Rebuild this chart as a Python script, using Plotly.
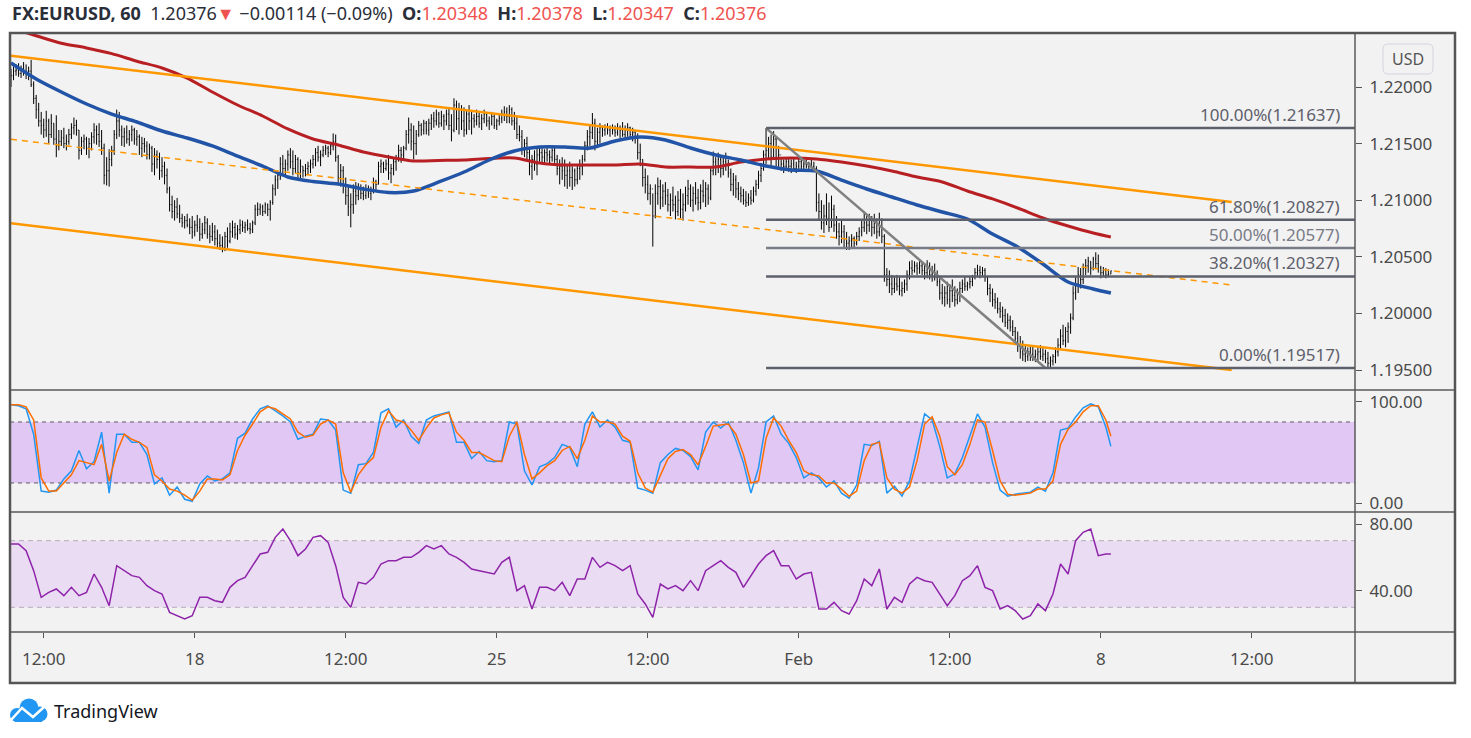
import plotly.graph_objects as go

W, H = 1471, 738
L, R, T, B = 10, 116, 33, 106
PW, PH = W - L - R, H - T - B


def px(x):
    # pixel -> paper x
    return (x - L) / PW


def py(y):
    # pixel -> paper y
    return (H - B - y) / PH


def round_rect(x0, y0, x1, y1, r):
    # rounded box path in paper coords, from pixel corners
    pts = [
        ("M", x0 + r, y0), ("L", x1 - r, y0), ("Q", x1, y0, x1, y0 + r),
        ("L", x1, y1 - r), ("Q", x1, y1, x1 - r, y1), ("L", x0 + r, y1),
        ("Q", x0, y1, x0, y1 - r), ("L", x0, y0 + r), ("Q", x0, y0, x0 + r, y0),
    ]
    out = []
    for p in pts:
        cmd, coords = p[0], p[1:]
        xy = [f"{px(coords[i]):.5f},{py(coords[i + 1]):.5f}" for i in range(0, len(coords), 2)]
        out.append(cmd + " " + " ".join(xy))
    return " ".join(out) + " Z"


BASE = 1.19  # prices below are pips above this

high_pips = [
    316, 318, 320, 321, 319, 322, 320, 318, 324, 305, 293, 286, 278, 272, 279, 272, 276, 268, 275, 262,
    262, 264, 258, 263, 268, 273, 271, 262, 256, 258, 256, 255, 260, 268, 266, 268, 262, 250, 238, 245,
    248, 262, 280, 278, 266, 264, 266, 262, 266, 264, 262, 258, 256, 255, 252, 250, 248, 246, 244, 242,
    238, 234, 228, 212, 204, 200, 202, 196, 188, 186, 188, 184, 186, 182, 187, 184, 180, 186, 184, 178,
    180, 178, 174, 170, 168, 172, 176, 180, 182, 180, 178, 183, 182, 181, 183, 180, 182, 196, 198, 197,
    196, 198, 197, 200, 214, 222, 226, 238, 240, 236, 244, 246, 244, 240, 238, 236, 230, 232, 234, 236,
    240, 246, 248, 244, 248, 249, 248, 250, 259, 258, 240, 232, 230, 220, 212, 206, 214, 216, 215, 214,
    212, 214, 213, 212, 220, 218, 234, 236, 234, 236, 240, 232, 238, 240, 249, 247, 248, 262, 273, 268,
    266, 262, 270, 268, 271, 270, 272, 276, 278, 280, 278, 279, 276, 280, 282, 276, 290, 288, 286, 284,
    282, 280, 284, 278, 276, 280, 278, 276, 280, 277, 274, 278, 276, 272, 276, 280, 283, 282, 284, 282,
    278, 274, 266, 262, 254, 256, 246, 240, 244, 246, 247, 246, 245, 247, 244, 246, 247, 240, 236, 238,
    236, 232, 234, 230, 228, 232, 236, 240, 252, 262, 266, 277, 272, 264, 268, 266, 267, 268, 266, 267,
    266, 268, 266, 269, 266, 268, 265, 264, 262, 259, 250, 236, 228, 222, 214, 206, 214, 220, 218, 214,
    216, 210, 206, 212, 204, 208, 210, 206, 212, 218, 214, 212, 216, 210, 214, 218, 216, 214, 230, 243,
    238, 242, 240, 238, 242, 236, 228, 224, 222, 216, 212, 210, 208, 206, 209, 212, 218, 226, 233, 244,
    263.7, 256, 258, 261, 256, 248, 238, 236, 238, 237, 236, 238, 234, 237, 238, 234, 236, 234, 236, 234,
    230, 206, 200, 196, 206, 198, 204, 196, 186, 180, 182, 178, 172, 168, 170, 168, 172, 176, 182, 189,
    186, 188, 186, 188, 184, 189, 184, 170, 140, 138, 134, 132, 134, 132, 128, 130, 138, 146, 147, 146,
    145, 147, 146, 144, 147, 145, 142, 144, 138, 132, 126, 124, 128, 126, 130, 124, 122, 128, 130, 132,
    128, 132, 134, 140, 143, 142, 141, 140, 132, 126, 122, 118, 114, 110, 106, 104, 100, 98, 94, 88,
    84, 80, 76, 72, 70, 72, 71, 68, 70, 72, 70, 68, 66, 62, 64, 70, 78, 86, 90, 88,
    92, 100, 124, 132, 141, 140, 144, 148, 150, 146, 150, 154, 152, 142, 141, 140, 139, 137.8,
]
low_pips = [
    300, 306, 310, 309, 308, 310, 307, 306, 300, 285, 272, 265, 258, 255, 256, 250, 255, 249, 238, 244,
    248, 246, 244, 249, 254, 258, 257, 236, 240, 245, 240, 237, 244, 250, 249, 247, 240, 214, 213, 212,
    230, 240, 254, 256, 248, 247, 250, 248, 252, 249, 248, 240, 238, 242, 236, 236, 225, 222, 228, 218,
    220, 214, 206, 190, 184, 182, 184, 180, 176, 175, 176, 170, 166, 168, 172, 164, 166, 170, 166, 162,
    164, 160, 158, 156, 154, 155, 158, 162, 167, 166, 165, 170, 172, 171, 173, 170, 171, 178, 186, 187,
    186, 188, 186, 182, 196, 204, 210, 218, 222, 222, 226, 228, 222, 224, 218, 219, 220, 221, 222, 224,
    228, 230, 234, 230, 238, 240, 238, 240, 244, 234, 214, 212, 206, 196, 186, 176, 188, 196, 200, 201,
    200, 201, 202, 200, 206, 208, 214, 224, 224, 226, 218, 215, 222, 226, 234, 233, 236, 244, 250, 244,
    236, 240, 256, 257, 258, 258, 257, 262, 264, 266, 264, 265, 262, 266, 262, 252, 260, 262, 258, 262,
    256, 258, 262, 258, 264, 266, 264, 262, 268, 265, 262, 266, 263, 262, 266, 268, 270, 268, 268, 266,
    262, 254, 252, 240, 238, 236, 222, 218, 226, 222, 234, 233, 232, 234, 232, 234, 233, 222, 214, 218,
    212, 210, 212, 209, 212, 214, 218, 222, 234, 244, 248, 254, 244, 246, 250, 256, 257, 258, 256, 258,
    256, 257, 255, 256, 254, 256, 254, 252, 250, 236, 230, 212, 206, 200, 196, 159, 184, 196, 192, 194,
    196, 190, 186, 190, 183, 186, 184, 182, 190, 196, 194, 190, 196, 191, 192, 198, 194, 196, 200, 222,
    222, 224, 220, 222, 226, 220, 208, 204, 202, 200, 198, 196, 194, 195, 196, 198, 204, 210, 216, 226,
    232, 236, 230, 236, 230, 227, 226, 224, 226, 225, 224, 226, 224, 225, 226, 226, 228, 227, 228, 226,
    190, 182, 174, 171, 178, 172, 176, 172, 166, 160, 162, 158, 156, 156, 158, 158, 160, 164, 168, 172,
    170, 172, 168, 170, 166, 168, 162, 128, 124, 118, 116, 118, 120, 116, 115, 118, 120, 130, 134, 136,
    134, 135, 134, 130, 131, 130, 128, 129, 124, 112, 108, 106, 108, 105, 110, 106, 108, 110, 118, 120,
    120, 122, 124, 130, 132, 131, 132, 128, 116, 110, 106, 104, 100, 96, 92, 88, 86, 84, 80, 72,
    66, 60, 58, 57, 58, 58, 58, 57, 58, 59, 58, 56, 51.7, 52, 54, 56, 62, 68, 72, 70,
    74, 82, 94, 112, 118, 122, 126, 134, 136, 134, 138, 140, 136, 131, 132, 131, 132, 134.7,
]
close_pips = [
    310, 314, 315, 312, 316, 313, 311, 314, 302, 290, 280, 270, 266, 262, 270, 258, 268, 254, 248, 252,
    255, 250, 252, 258, 264, 266, 262, 244, 252, 254, 246, 250, 256, 262, 258, 252, 246, 222, 226, 236,
    244, 258, 270, 262, 256, 260, 254, 258, 262, 254, 256, 246, 250, 248, 240, 246, 232, 240, 236, 226,
    230, 222, 210, 196, 190, 194, 188, 184, 180, 182, 178, 176, 172, 178, 176, 170, 174, 180, 170, 168,
    172, 166, 162, 160, 158, 168, 164, 172, 176, 170, 174, 178, 176, 178, 175, 174, 180, 192, 192, 194,
    190, 196, 192, 198, 210, 218, 222, 232, 228, 232, 240, 234, 228, 236, 224, 230, 226, 228, 230, 232,
    236, 242, 238, 240, 244, 246, 242, 248, 252, 238, 220, 226, 214, 204, 194, 196, 208, 204, 210, 206,
    204, 210, 206, 208, 216, 214, 230, 232, 228, 232, 224, 228, 234, 236, 244, 240, 246, 258, 262, 252,
    250, 258, 266, 262, 268, 262, 268, 272, 270, 276, 268, 274, 270, 276, 266, 262, 284, 272, 280, 270,
    262, 276, 270, 272, 270, 274, 268, 272, 276, 270, 268, 274, 266, 270, 272, 276, 278, 274, 280, 270,
    268, 258, 256, 246, 250, 242, 230, 236, 232, 240, 242, 238, 242, 240, 238, 244, 236, 228, 230, 226,
    222, 226, 220, 226, 218, 228, 230, 236, 248, 256, 260, 268, 252, 260, 264, 262, 264, 262, 264, 262,
    260, 264, 262, 258, 262, 264, 258, 260, 256, 242, 236, 220, 214, 206, 210, 186, 206, 212, 202, 208,
    204, 196, 200, 196, 190, 200, 192, 196, 204, 210, 200, 206, 202, 198, 208, 204, 210, 202, 226, 234,
    230, 236, 228, 234, 232, 224, 214, 218, 210, 206, 204, 200, 198, 202, 200, 208, 214, 222, 228, 240,
    244, 250, 238, 254, 236, 240, 232, 230, 234, 230, 232, 228, 230, 234, 230, 232, 230, 232, 230, 228,
    198, 190, 180, 186, 184, 176, 192, 178, 172, 168, 172, 166, 162, 164, 166, 162, 168, 172, 176, 180,
    178, 182, 176, 180, 172, 182, 168, 134, 130, 126, 122, 126, 124, 120, 122, 126, 134, 140, 138, 142,
    140, 142, 138, 136, 142, 134, 136, 132, 128, 118, 114, 118, 112, 120, 116, 112, 118, 122, 126, 124,
    126, 128, 132, 136, 138, 136, 138, 132, 122, 118, 112, 110, 104, 102, 98, 92, 94, 88, 84, 78,
    72, 66, 64, 62, 66, 64, 62, 64, 66, 62, 64, 60, 56, 58, 62, 66, 72, 80, 76, 84,
    88, 96, 118, 126, 134, 130, 140, 142, 146, 140, 148, 144, 140, 136, 138, 134, 134.8, 137.6,
]
first_open_pips = 312

# moving averages, read every 10 bars
ma_idx = list(range(0, 431, 10)) + [437]
ma_fast_pips = [
    321.2, 307.1, 295.6, 285, 276.1, 269.1, 261.1, 254.9, 247.9, 239,
    230.2, 220.5, 216.5, 214.3, 209.9, 206.8, 208.1, 216.1, 224.9, 235.5,
    243.5, 247, 247, 246.1, 252.3, 255.8, 253.2, 246.1, 239.9, 235.5,
    230.2, 226.7, 225.8, 217.8, 209.9, 202.8, 195.8, 189.6, 183.4, 170.1,
    158.7, 143.6, 127.7, 121.6, 118,
]
ma_slow_pips = [
    352.1, 345.3, 338.7, 334.5, 329.5, 322.8, 316.8, 307.9, 295.6, 284.1,
    274.4, 262.9, 254.1, 248.8, 242.6, 238.2, 234.7, 235.1, 235.5, 236.8,
    237.3, 232.9, 231.1, 231.1, 231.1, 232, 229.3, 229.3, 229.3, 233.7,
    236.4, 237.3, 236.4, 233.7, 230.2, 225.8, 220.5, 216.1, 208.1, 201.1,
    193.1, 184.3, 177.2, 171, 167.5,
]

# oscillators, read every 3 bars
osc_idx = list(range(0, 436, 3)) + [437]
stoch_k = [
    97, 96, 93, 68, 12, 11, 13, 24, 32, 52,
    34, 41, 70, 10, 68, 68, 60, 60, 48, 19,
    25, 8, 16, 4, 2, 19, 27, 22, 24, 30,
    64, 69, 83, 93, 96, 91, 86, 80, 63, 66,
    68, 83, 82, 72, 13, 10, 38, 39, 50, 89,
    93, 75, 82, 66, 59, 82, 86, 88, 90, 60,
    60, 44, 51, 42, 41, 42, 80, 78, 32, 18,
    36, 39, 45, 58, 55, 36, 78, 90, 75, 82,
    75, 62, 60, 15, 13, 10, 40, 48, 54, 52,
    46, 33, 70, 80, 74, 80, 62, 40, 10, 35,
    80, 86, 68, 59, 45, 25, 30, 25, 16, 22,
    10, 5, 18, 58, 57, 61, 10, 17, 7, 22,
    55, 88, 82, 56, 25, 29, 45, 66, 88, 75,
    40, 13, 7, 9, 10, 11, 16, 12, 30, 72,
    74, 85, 94, 98, 95, 75, 56,
]
stoch_d = [
    97, 97, 95, 82, 25, 12, 12, 20, 28, 42,
    40, 38, 58, 22, 50, 68, 63, 60, 55, 28,
    22, 14, 12, 8, 3, 12, 24, 24, 23, 28,
    52, 67, 78, 90, 95, 93, 88, 83, 70, 65,
    67, 78, 82, 78, 30, 11, 28, 38, 45, 75,
    91, 82, 80, 72, 62, 74, 84, 87, 89, 70,
    62, 50, 50, 46, 42, 41, 66, 80, 48, 24,
    30, 37, 42, 52, 56, 44, 62, 86, 80, 80,
    78, 66, 61, 30, 15, 11, 28, 44, 51, 53,
    48, 38, 56, 76, 77, 78, 68, 48, 20, 22,
    64, 84, 76, 62, 50, 32, 28, 27, 20, 20,
    14, 7, 12, 42, 58, 60, 25, 14, 10, 16,
    42, 78, 85, 66, 36, 28, 38, 58, 82, 80,
    52, 22, 9, 8, 9, 10, 14, 14, 22, 58,
    73, 80, 90, 96, 96, 82, 66,
]
rsi = [
    68, 68, 64, 52, 36, 39, 41, 37, 42, 37,
    39, 50, 42, 31, 55, 52, 49, 48, 43, 40,
    38, 27, 25, 23, 25, 36, 36, 34, 33, 42,
    46, 48, 55, 62, 63, 72, 77, 70, 61, 65,
    72, 73, 69, 55, 36, 30, 45, 44, 48, 56,
    58, 58, 60, 60, 63, 67, 65, 67, 62, 60,
    57, 53, 52, 51, 50, 57, 60, 40, 43, 29,
    42, 42, 40, 45, 37, 47, 47, 60, 54, 57,
    55, 52, 55, 38, 32, 24, 44, 41, 43, 40,
    46, 40, 52, 55, 58, 54, 51, 42, 49, 56,
    61, 64, 55, 55, 47, 50, 51, 29, 29, 33,
    28, 26, 34, 47, 43, 53, 29, 36, 33, 44,
    48, 46, 45, 38, 31, 37, 46, 49, 55, 42,
    40, 29, 31, 28, 23, 25, 32, 28, 38, 56,
    50, 70, 75, 77, 61, 62, 62,
]

# drawings
chan_idx = [0, 485]
chan_upper = [1.22277, 1.20984]
chan_mid = [1.21538, 1.20251]
chan_lower = [1.20796, 1.19500]

fib_idx = [300, 534]
fib_pct = [100.0, 61.8, 50.0, 38.2, 0.0]
fib_price = [1.21637, 1.20827, 1.20577, 1.20327, 1.19517]
fib_trend_idx = [300, 411]
fib_trend = [1.21637, 1.19517]

time_ticks = [13, 73, 133, 193, 253, 313, 373, 433, 493]
time_labels = ["12:00", "18", "12:00", "25", "12:00", "Feb", "12:00", "8", "12:00"]
price_ticks = [1.195, 1.200, 1.205, 1.210, 1.215, 1.220]

n = min(len(high_pips), len(low_pips), len(close_pips))
bars = list(range(n))
high = [BASE + v / 10000 for v in high_pips[:n]]
low = [BASE + v / 10000 for v in low_pips[:n]]
close = [BASE + v / 10000 for v in close_pips[:n]]
open_ = [BASE + first_open_pips / 10000] + close[:-1]

FONT = "Noto Sans"
GRAY = "#5d606b"

fig = go.Figure()

fig.add_trace(go.Ohlc(
    x=bars, open=open_, high=high, low=low, close=close,
    increasing_line_color="#000000", decreasing_line_color="#000000",
    line_width=1, tickwidth=0.3, hoverinfo="skip", showlegend=False,
))

fig.add_trace(go.Scatter(
    x=ma_idx, y=[BASE + v / 10000 for v in ma_slow_pips], mode="lines",
    line=dict(color="#b71f22", width=3, shape="spline", smoothing=0.8),
    hoverinfo="skip", showlegend=False,
))
fig.add_trace(go.Scatter(
    x=ma_idx, y=[BASE + v / 10000 for v in ma_fast_pips], mode="lines",
    line=dict(color="#2154a6", width=3.5, shape="spline", smoothing=0.8),
    hoverinfo="skip", showlegend=False,
))

# channel
for ys, dash, w in [(chan_upper, "solid", 2.5), (chan_mid, "6px,5px", 1.5), (chan_lower, "solid", 2.5)]:
    fig.add_trace(go.Scatter(
        x=chan_idx, y=ys, mode="lines", line=dict(color="#ff9800", width=w, dash=dash),
        hoverinfo="skip", showlegend=False,
    ))

# fibonacci
fig.add_trace(go.Scatter(
    x=fib_trend_idx, y=fib_trend, mode="lines", line=dict(color="#808080", width=2.5),
    hoverinfo="skip", showlegend=False,
))
for pct, lvl in zip(fib_pct, fib_price):
    col = "#787b86" if pct == 50.0 else GRAY
    fig.add_trace(go.Scatter(
        x=fib_idx, y=[lvl, lvl], mode="lines", line=dict(color=col, width=2.5),
        hoverinfo="skip", showlegend=False,
    ))
    fig.add_annotation(
        x=529, y=lvl, xref="x", yref="y", text=f"{pct:.2f}%({lvl:.5f})",
        showarrow=False, xanchor="right", yanchor="bottom", yshift=0,
        font=dict(family=FONT, size=17, color=col),
    )

# stochastic
fig.add_trace(go.Scatter(
    x=osc_idx, y=stoch_k, yaxis="y2", mode="lines", line=dict(color="#2196f3", width=1.5),
    hoverinfo="skip", showlegend=False,
))
fig.add_trace(go.Scatter(
    x=osc_idx, y=stoch_d, yaxis="y2", mode="lines", line=dict(color="#ff6d00", width=1.5),
    hoverinfo="skip", showlegend=False,
))

# rsi
fig.add_trace(go.Scatter(
    x=osc_idx, y=rsi, yaxis="y3", mode="lines", line=dict(color="#8e24aa", width=1.5),
    hoverinfo="skip", showlegend=False,
))

shapes = [
    dict(type="rect", xref="paper", yref="paper", x0=px(10), x1=px(1455), y0=py(683), y1=py(33),
         fillcolor="#f2f2f2", line_width=0, layer="below"),
    dict(type="rect", xref="paper", yref="y2", x0=0, x1=1, y0=20, y1=80,
         fillcolor="#e1c8f4", line_width=0, layer="below"),
    dict(type="rect", xref="paper", yref="y3", x0=0, x1=1, y0=30, y1=70,
         fillcolor="#eadcf3", line_width=0, layer="below"),
]
for v in (20, 80):
    shapes.append(dict(type="line", xref="paper", yref="y2", x0=0, x1=1, y0=v, y1=v,
                       line=dict(color="#5b5b66", width=1, dash="4px,4px"), layer="below"))
for v in (30, 70):
    shapes.append(dict(type="line", xref="paper", yref="y3", x0=0, x1=1, y0=v, y1=v,
                       line=dict(color="#b5adbd", width=1, dash="5px,4px"), layer="below"))
# pane separators and frame
for yy in (390, 512, 632):
    shapes.append(dict(type="line", xref="paper", yref="paper", x0=px(10), x1=px(1455),
                       y0=py(yy), y1=py(yy), line=dict(color="#5a5a5a", width=1.5)))
shapes.append(dict(type="line", xref="paper", yref="paper", x0=px(1355), x1=px(1355),
                   y0=py(33), y1=py(683), line=dict(color="#5a5a5a", width=1.5)))
shapes.append(dict(type="rect", xref="paper", yref="paper", x0=px(10), x1=px(1455),
                   y0=py(683), y1=py(33), line=dict(color="#555555", width=2.5)))
# USD button
shapes.append(dict(type="path", xref="paper", yref="paper", path=round_rect(1383, 44, 1433, 74, 5),
                   fillcolor="#f2f2f2", line=dict(color="#d4d6de", width=1)))
# TradingView cloud logo
for cx, cy, r in [(17, 715, 7), (29, 708, 9.5), (40, 714, 7.5)]:
    shapes.append(dict(type="circle", xref="paper", yref="paper", x0=px(cx - r), x1=px(cx + r),
                       y0=py(cy + r), y1=py(cy - r), fillcolor="#2196f3", line_width=0))
shapes.append(dict(type="rect", xref="paper", yref="paper", x0=px(15), x1=px(42),
                   y0=py(722), y1=py(711), fillcolor="#2196f3", line_width=0))
zig = [(11, 720), (22, 708), (33, 717), (44, 707)]
path = "M " + " L ".join(f"{px(a):.5f},{py(b):.5f}" for a, b in zig)
shapes.append(dict(type="path", xref="paper", yref="paper", path=path,
                   line=dict(color="#ffffff", width=2.5)))

RED = "#ef5350"
header = (
    "<b>FX:EURUSD, 60</b>&nbsp;&nbsp;1.20376"
    f"<span style='color:{RED}'>▼</span>&nbsp;−0.00114 (−0.09%)&nbsp;&nbsp;"
    f"<b>O:</b><span style='color:{RED}'>1.20348</span>&nbsp;&nbsp;"
    f"<b>H:</b><span style='color:{RED}'>1.20378</span>&nbsp;&nbsp;"
    f"<b>L:</b><span style='color:{RED}'>1.20347</span>&nbsp;&nbsp;"
    f"<b>C:</b><span style='color:{RED}'>1.20376</span>"
)
fig.add_annotation(x=px(10), y=py(13), xref="paper", yref="paper", text=header,
                   showarrow=False, xanchor="left", yanchor="middle",
                   font=dict(family=FONT, size=18, color="#2a2e39"))
fig.add_annotation(x=px(1408), y=py(59), xref="paper", yref="paper", text="USD",
                   showarrow=False, xanchor="center", yanchor="middle",
                   font=dict(family=FONT, size=16, color="#555555"))
fig.add_annotation(x=px(52), y=py(711), xref="paper", yref="paper", text="TradingView",
                   showarrow=False, xanchor="left", yanchor="middle",
                   font=dict(family=FONT, size=18, color="#131722"))

tick_font = dict(family=FONT, size=17, color="#4a4a4a")
fig.update_layout(
    width=W, height=H,
    margin=dict(l=L, r=R, t=T, b=B),
    paper_bgcolor="#ffffff", plot_bgcolor="rgba(0,0,0,0)",
    showlegend=False, hovermode=False,
    shapes=shapes,
    xaxis=dict(
        range=[-0.4, 534], anchor="y3", tickvals=time_ticks, ticktext=time_labels,
        ticks="outside", ticklen=5, tickcolor="#555555", tickfont=tick_font,
        ticklabelstandoff=7, showgrid=False, zeroline=False, showline=False,
        rangeslider=dict(visible=False), fixedrange=True,
    ),
    yaxis=dict(
        domain=[py(390), 1], range=[1.193233, 1.22477], side="right",
        tickvals=price_ticks, ticktext=[f"{v:.5f}" for v in price_ticks],
        ticks="outside", ticklen=6, tickcolor="#555555", tickfont=tick_font,
        ticklabelstandoff=4, showgrid=False, zeroline=False, showline=False, fixedrange=True,
    ),
    yaxis2=dict(
        domain=[py(512), py(390)], range=[-8.56, 111.5], side="right", anchor="x",
        tickvals=[0, 100], ticktext=["0.00", "100.00"],
        ticks="outside", ticklen=6, tickcolor="#555555", tickfont=tick_font,
        ticklabelstandoff=4, showgrid=False, zeroline=False, showline=False, fixedrange=True,
    ),
    yaxis3=dict(
        domain=[0, py(512)], range=[15.2, 87.2], side="right", anchor="x",
        tickvals=[40, 80], ticktext=["40.00", "80.00"],
        ticks="outside", ticklen=6, tickcolor="#555555", tickfont=tick_font,
        ticklabelstandoff=4, showgrid=False, zeroline=False, showline=False, fixedrange=True,
    ),
)

fig.write_html(
    "out.html",
    config={"displayModeBar": False},
    post_script="document.body.style.margin='0';document.body.style.overflow='hidden';",
)
